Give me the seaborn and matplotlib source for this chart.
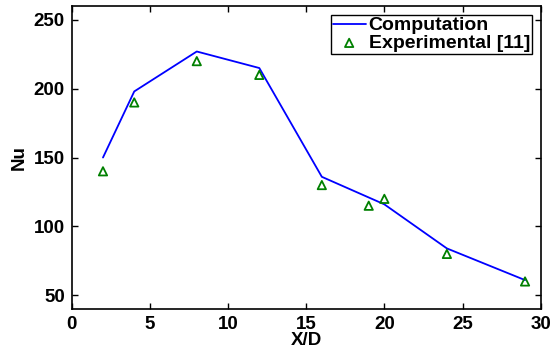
import matplotlib
matplotlib.use("Agg")
import matplotlib.pyplot as plt
import seaborn as sns
import pandas as pd

comp_x = [2, 4, 8, 12, 16, 20, 24, 29]
comp_nu = [150, 198, 227, 215, 136, 116, 84, 61]
exp_x = [2, 4, 8, 12, 16, 19, 20, 24, 29]
exp_nu = [140, 190, 220, 210, 130, 115, 120, 80, 60]
x_ticks = [0, 5, 10, 15, 20, 25, 30]
y_ticks = [50, 100, 150, 200, 250]

sns.set_style("ticks")
plt.rcParams['font.family'] = ['Liberation Sans', 'DejaVu Sans']
plt.rcParams['font.weight'] = 'bold'
plt.rcParams['text.color'] = 'black'
plt.rcParams['axes.labelcolor'] = 'black'

fig = plt.figure(figsize=(5.53, 3.56), dpi=100)
ax = fig.add_axes([0.1297, 0.132, 0.848, 0.851])

comp = pd.DataFrame({"x": comp_x, "nu": comp_nu})
exp = pd.DataFrame({"x": exp_x, "nu": exp_nu})

sns.lineplot(data=comp, x="x", y="nu", ax=ax, color=(0, 0, 1), lw=1.3,
             label="Computation", sort=False)
sns.scatterplot(data=exp, x="x", y="nu", ax=ax, marker="^", s=36,
                facecolors="none", edgecolor=(0, 0.5, 0), linewidth=1.3,
                label="Experimental [11]", zorder=3)

ax.set_xlim(0, 30)
ax.set_ylim(40, 260)
ax.set_xticks(x_ticks)
ax.set_yticks(y_ticks)
ax.tick_params(direction="in", length=4, width=1, top=True, right=True,
               labelsize=13.5, pad=5, colors="black")
for lab in ax.get_xticklabels() + ax.get_yticklabels():
    lab.set_fontweight("bold")
for s in ax.spines.values():
    s.set_visible(True)
    s.set_linewidth(1.2)
    s.set_color("black")
ax.set_xlabel("X/D", fontsize=13.5, fontweight="bold", labelpad=-1, color="black")
ax.set_ylabel("Nu", fontsize=13.5, fontweight="bold", labelpad=4, color="black")

leg = ax.legend(loc="upper right", fontsize=14, frameon=True, fancybox=False,
                framealpha=1, edgecolor="black", borderpad=0.1, labelspacing=0.0,
                handlelength=1.7, handletextpad=0.15, borderaxespad=0.45)
leg.get_frame().set_linewidth(1.0)
for t in leg.get_texts():
    t.set_fontweight("bold")
    t.set_color("black")

fig.savefig("out.png", dpi=100)
